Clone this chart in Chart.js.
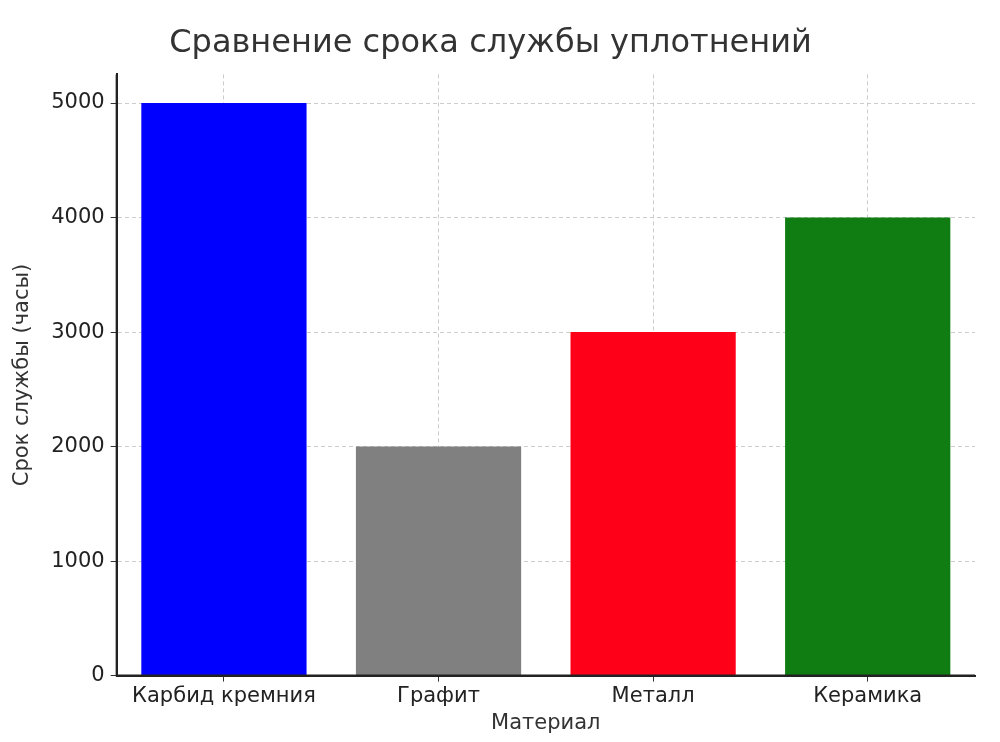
<!DOCTYPE html>
<html><head><meta charset="utf-8">
<script src="https://cdn.jsdelivr.net/npm/chart.js@4"></script>
<style>html,body{margin:0;padding:0;background:#fff}#w{width:1000px;height:742px}</style>
</head><body><div id="w"><canvas id="c" width="1000" height="742"></canvas></div>
<script>
const categories = ["Карбид кремния", "Графит", "Металл", "Керамика"];
const values = [5000, 2000, 3000, 4000];
const colors = ["#0000ff", "#808080", "#ff0019", "#0f7d12"];
const yTicks = [0, 1000, 2000, 3000, 4000, 5000];
const F = "DejaVu Sans";
new Chart(document.getElementById('c'), {
  type: 'bar',
  data: { labels: categories, datasets: [{ data: values, backgroundColor: colors, barPercentage: 0.77, categoryPercentage: 1 }] },
  options: {
    responsive: false, animation: false, devicePixelRatio: 1,
    layout: { padding: { top: 6, right: 25, left: 6, bottom: 2 } },
    plugins: {
      legend: { display: false }, tooltip: { enabled: false },
      title: { display: true, text: "Сравнение срока службы уплотнений", color: "#333", font: { family: F, size: 32, weight: 'normal' }, padding: { top: 18, bottom: 12 } }
    },
    scales: {
      x: {
        grid: { color: "#ccc", offset: false, tickLength: 6, tickColor: "#333" },
        border: { color: "#222", width: 2, dash: [4, 3] },
        ticks: { color: "#222", font: { family: F, size: 21 }, padding: 2, maxRotation: 0 },
        title: { display: true, text: "Материал", color: "#333", font: { family: F, size: 21 }, padding: { top: 0 } }
      },
      y: {
        min: 0, max: 5250,
        afterBuildTicks: a => { a.ticks = yTicks.map(v => ({ value: v })); },
        grid: { color: "#ccc", tickLength: 6, tickColor: "#333" },
        border: { color: "#222", width: 2, dash: [4, 3] },
        ticks: { color: "#222", font: { family: F, size: 21 }, padding: 6, callback: v => String(v) },
        title: { display: true, text: "Срок службы (часы)", color: "#333", font: { family: F, size: 21 }, padding: { bottom: 10 } }
      }
    }
  },
  plugins: [{
    id: 'solidAxes',
    afterDraw(ch) {
      const { ctx, chartArea: a } = ch;
      ctx.save(); ctx.strokeStyle = "#222"; ctx.lineWidth = 2; ctx.setLineDash([]);
      ctx.beginPath(); ctx.moveTo(a.left, a.top); ctx.lineTo(a.left, a.bottom); ctx.lineTo(a.right, a.bottom); ctx.stroke();
      ctx.restore();
    }
  }]
});
</script></body></html>
